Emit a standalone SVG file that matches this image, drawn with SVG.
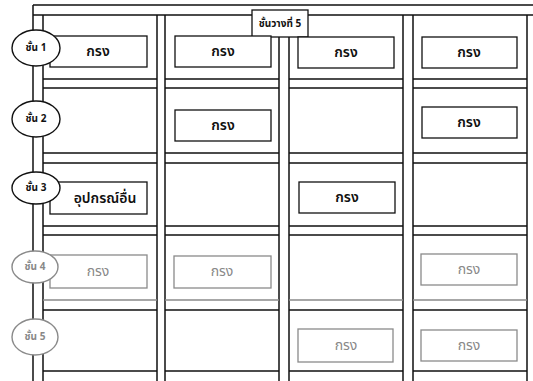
<svg xmlns="http://www.w3.org/2000/svg" width="533" height="381" viewBox="0 0 533 381">
<style>
.ln{stroke:#111;stroke-width:1.5;fill:none}
.lg{stroke:#8a8a8a;stroke-width:1.5;fill:none}
.bx{fill:#fff;stroke:#111;stroke-width:1.3}
.bg{fill:#fff;stroke:#8a8a8a;stroke-width:1.3}
.el{fill:#fff;stroke:#111;stroke-width:1.4}
.eg{fill:#fff;stroke:#8a8a8a;stroke-width:1.4}
.t{font-family:"Noto Sans Thai","Noto Sans","DejaVu Sans",sans-serif;font-size:14px;font-weight:600;text-anchor:middle;fill:#111}
.tg{font-family:"Noto Sans Thai","Noto Sans","DejaVu Sans",sans-serif;font-size:14px;text-anchor:middle;fill:#888}
.c{font-family:"Noto Sans Thai","Noto Sans","DejaVu Sans",sans-serif;font-size:10px;font-weight:bold;text-anchor:middle;fill:#111}
.cg{font-family:"Noto Sans Thai","Noto Sans","DejaVu Sans",sans-serif;font-size:10px;font-weight:bold;text-anchor:middle;fill:#888}
</style>
<rect width="533" height="381" fill="#fff"/>
<g id="connectors">
  <path class="ln" d="M33 5 H533 M33 15 H533 M33 5 V381 M43 15 V381"/>
  <path class="ln" d="M157 15 V381 M165 15 V381 M279 37 V381 M289 37 V381 M403 15 V381 M413 15 V381 M527 15 V381"/>
  <path class="ln" d="M43 79 H157 M165 79 H279 M289 79 H403 M413 79 H527 M43 88 H157 M165 88 H279 M289 88 H403 M413 88 H527"/>
  <path class="ln" d="M43 153 H157 M165 153 H279 M289 153 H403 M413 153 H527 M43 163 H157 M165 163 H279 M289 163 H403 M413 163 H527"/>
  <path class="ln" d="M43 226 H157 M165 226 H279 M289 226 H403 M413 226 H527 M43 235 H157 M165 235 H279 M289 235 H403 M413 235 H527"/>
  <path class="lg" d="M43 300 H157 M165 300 H279 M289 300 H403 M413 300 H527"/>
  <path class="ln" d="M43 310 H157 M165 310 H279 M289 310 H403 M413 310 H527" stroke="#444"/>
  <path class="ln" d="M43 371 H157 M165 371 H279 M289 371 H403 M413 371 H527" stroke="#333"/>
</g>
<g id="label-rack">
  <rect class="bx" x="252" y="10" width="56" height="27"/>
  <text class="c" x="280" y="27">ชั้นวางที่ 5</text>
</g>
<g id="r1c1"><rect class="bx" x="50" y="36" width="97" height="31"/><text class="t" x="98" y="56">กรง</text></g>
<g id="r1c2"><rect class="bx" x="175" y="36" width="96" height="31"/><text class="t" x="223" y="56">กรง</text></g>
<g id="r1c3"><rect class="bx" x="298" y="37" width="96" height="31"/><text class="t" x="346" y="57">กรง</text></g>
<g id="r1c4"><rect class="bx" x="422" y="37" width="95" height="31"/><text class="t" x="469" y="57">กรง</text></g>
<g id="r2c2"><rect class="bx" x="175" y="110" width="96" height="31"/><text class="t" x="223" y="130">กรง</text></g>
<g id="r2c4"><rect class="bx" x="422" y="107" width="95" height="31"/><text class="t" x="469" y="127">กรง</text></g>
<g id="r3c1"><rect class="bx" x="50" y="182" width="97" height="32"/><text class="t" x="105" y="203" font-size="15">อุปกรณ์อื่น</text></g>
<g id="r3c3"><rect class="bx" x="299" y="182" width="96" height="31"/><text class="t" x="347" y="202">กรง</text></g>
<g id="r4c1"><rect class="bg" x="50" y="255" width="97" height="33"/><text class="tg" x="98" y="276">กรง</text></g>
<g id="r4c2"><rect class="bg" x="174" y="256" width="97" height="32"/><text class="tg" x="222" y="276">กรง</text></g>
<g id="r4c4"><rect class="bg" x="421" y="254" width="96" height="31"/><text class="tg" x="469" y="274">กรง</text></g>
<g id="r5c3"><rect class="bg" x="298" y="329" width="95" height="33"/><text class="tg" x="346" y="350">กรง</text></g>
<g id="r5c4"><rect class="bg" x="421" y="330" width="96" height="31"/><text class="tg" x="469" y="350">กรง</text></g>
<g id="level1"><ellipse class="el" cx="36" cy="48" rx="24" ry="18"/><text class="c" x="36" y="51">ชั้น 1</text></g>
<g id="level2"><ellipse class="el" cx="36" cy="119" rx="24" ry="18"/><text class="c" x="36" y="122">ชั้น 2</text></g>
<g id="level3"><ellipse class="el" cx="36" cy="188" rx="24" ry="16"/><text class="c" x="36" y="191">ชั้น 3</text></g>
<g id="level4"><ellipse class="eg" cx="35" cy="267" rx="23" ry="16"/><text class="cg" x="35" y="270">ชั้น 4</text></g>
<g id="level5"><ellipse class="eg" cx="35" cy="337" rx="23" ry="18"/><text class="cg" x="35" y="340">ชั้น 5</text></g>
</svg>
